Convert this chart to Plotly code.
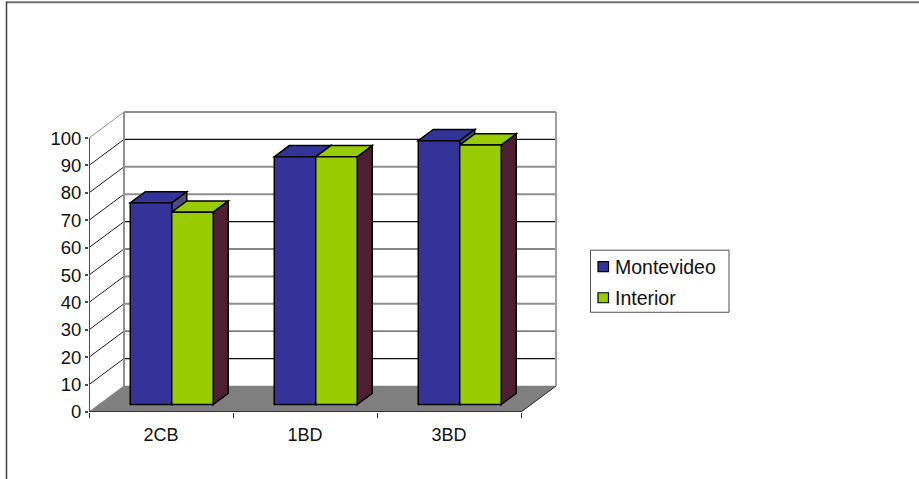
import plotly.graph_objects as go

# Survey results by group and region
categories = ["2CB", "1BD", "3BD"]
series_names = ["Montevideo", "Interior"]
montevideo = [73.6, 90.4, 96.3]
interior = [70.2, 90.4, 94.7]
y_ticks = list(range(0, 101, 10))

FONT = "Liberation Sans, Arial, sans-serif"
BLUE, GREEN = "#333399", "#99CC00"
BLUE_SIDE, GREEN_SIDE = "#4C4C80", "#4D1F33"
WALL, FLOOR, AXIS = "#8F8F8F", "#808080", "#4A4A4A"

# Oblique projection: a point at depth d moves right and up by a share of these
DX, DY = 0.243, 9.5
BAR_NEAR, BAR_FAR = 0.29, 0.72
BAR_W = 0.288
BAR_SHIFT = 0.004

W, H = 919, 479
L, R, T, B = 89, W - 559, 109, H - 411.6
X_RANGE = [0, (W - R - L) / 144]
Y_RANGE = [0, (H - T - B) / 2.736]


def px(x):
    return (x - L) / (W - L - R)


def py(y):
    return (H - B - y) / (H - T - B)


def poly(points, fill, line="#000000", width=1.5):
    path = "M" + " L".join(f"{x:.4f} {y:.4f}" for x, y in points) + " Z"
    return dict(type="path", path=path, xref="x", yref="y", layer="below",
                fillcolor=fill, line=dict(color=line, width=width))


def seg(x0, y0, x1, y1, color, width=1.0):
    return dict(type="line", xref="x", yref="y", layer="below", x0=x0, y0=y0,
                x1=x1, y1=y1, line=dict(color=color, width=width))


def frame_line(x0, y0, x1, y1, color, width):
    return dict(type="line", xref="paper", yref="paper", x0=px(x0), y0=py(y0),
                x1=px(x1), y1=py(y1), line=dict(color=color, width=width))


n = len(categories)
shapes = [
    frame_line(6, 2.5, 919, 2.5, "#707070", 2),
    frame_line(6.5, 2, 6.5, 479, "#404040", 1.5),
    # floor
    poly([(0, 0), (n, 0), (n + DX, DY), (DX, DY)], FLOOR, FLOOR, 0.5),
    seg(n, 0, n + DX, DY, "#303030", 1),
]

# Walls and their gridlines; rescaling leaves some rules darker than others
grid_colors = {0: WALL, 10: "#101010", 20: "#505050", 30: WALL, 40: WALL,
               50: "#101010", 60: "#101010", 70: WALL, 80: WALL, 90: "#101010",
               100: WALL}
for v in y_ticks:
    width = 2 if grid_colors[v] == WALL else 1.2
    if v > 0:
        shapes.append(seg(DX, v + DY, n + DX, v + DY, grid_colors[v], width))
    shapes.append(seg(0, v, DX, v + DY, "#202020" if 0 < v < 100 else WALL, 1))
shapes += [
    seg(DX, DY, DX, 100 + DY, WALL, 2),
    seg(n + DX, DY, n + DX, 100 + DY, "#A0A0A0", 2),
    seg(0, 0, 0, 100, AXIS, 2),
    seg(0, 0, n, 0, "#303030", 2),
]

# Top and side faces of each column, back to front, left to right
near_x, near_y = BAR_NEAR * DX + BAR_SHIFT, BAR_NEAR * DY
run_x, run_y = (BAR_FAR - BAR_NEAR) * DX, (BAR_FAR - BAR_NEAR) * DY
for i in range(n):
    centre = i + 0.5 + near_x
    for values, left, top_fill, side_fill in (
        (montevideo, centre - BAR_W, BLUE, BLUE_SIDE),
        (interior, centre, GREEN, GREEN_SIDE),
    ):
        right = left + BAR_W
        top = values[i] + near_y
        shapes.append(poly([(right, near_y), (right + run_x, near_y + run_y),
                            (right + run_x, top + run_y), (right, top)], side_fill))
        shapes.append(poly([(left, top), (left + run_x, top + run_y),
                            (right + run_x, top + run_y), (right, top)], top_fill))

fig = go.Figure()
for name, values, color, offset in (
    (series_names[0], montevideo, BLUE, -BAR_W / 2),
    (series_names[1], interior, GREEN, BAR_W / 2),
):
    fig.add_bar(
        name=name,
        x=[i + 0.5 + near_x + offset for i in range(n)],
        y=values,
        base=near_y,
        width=BAR_W,
        marker=dict(color=color, line=dict(color="#000000", width=1.5)),
        showlegend=False,
        hoverinfo="name+y",
    )

# Legend panel
LEG_L, LEG_T, LEG_R, LEG_B = 590.5, 250, 729, 312
shapes.append(dict(type="rect", xref="paper", yref="paper", x0=px(LEG_L), x1=px(LEG_R),
                   y0=py(LEG_T), y1=py(LEG_B), line=dict(color="#505050", width=1),
                   fillcolor="#FFFFFF"))
annotations = []
for name, color, cy in zip(series_names, (BLUE, GREEN), (266.5, 297.5)):
    shapes.append(dict(type="rect", xref="paper", yref="paper", x0=px(598), x1=px(608.5),
                       y0=py(cy - 5), y1=py(cy + 5), fillcolor=color,
                       line=dict(color="#000000", width=1.2)))
    annotations.append(dict(text=name, xref="paper", yref="paper", x=px(612.5), y=py(cy),
                            xanchor="left", yanchor="middle", showarrow=False,
                            font=dict(family=FONT, size=19.5, color="#111111")))

fig.update_layout(
    width=W, height=H,
    margin=dict(l=L, r=R, t=T, b=B, pad=0),
    autosize=False,
    barmode="overlay",
    paper_bgcolor="#FFFFFF",
    plot_bgcolor="#FFFFFF",
    showlegend=False,
    shapes=shapes,
    annotations=annotations,
    xaxis=dict(
        range=X_RANGE, showgrid=False, zeroline=False, showline=False,
        tickmode="array", tickvals=[i + 0.5 for i in range(n)], ticktext=categories,
        ticks="", ticklen=0, ticklabelstandoff=10,
        tickfont=dict(family=FONT, size=18, color="#111111"),
        minor=dict(tickmode="array", tickvals=list(range(n + 1)), ticks="outside",
                   ticklen=5, tickcolor="#303030", tickwidth=1, showgrid=False),
    ),
    yaxis=dict(
        range=Y_RANGE, showgrid=False, zeroline=False, showline=False,
        tickmode="array", tickvals=y_ticks, ticks="outside", ticklen=3,
        tickcolor=AXIS, tickwidth=1.5,
        tickfont=dict(family=FONT, size=18.5, color="#111111"),
    ),
)

fig.write_html("out.html", config={"displayModeBar": False})
